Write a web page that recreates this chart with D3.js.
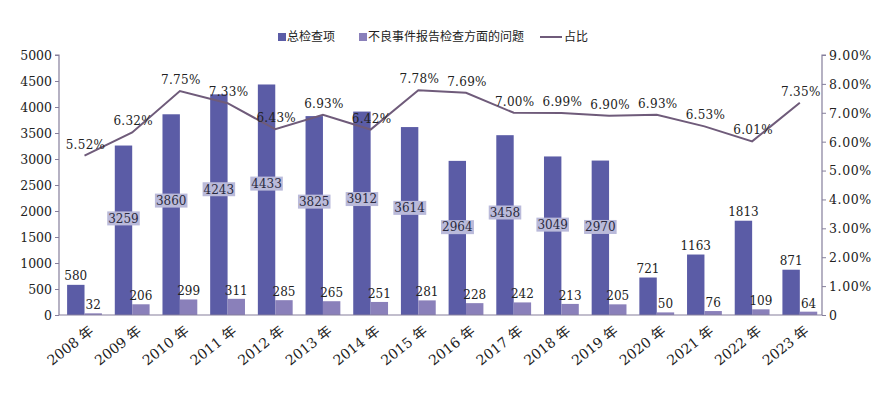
<!DOCTYPE html>
<html>
<head>
<meta charset="utf-8">
<script src="https://cdn.jsdelivr.net/npm/d3@7"></script>
<style>
  html, body { margin: 0; padding: 0; background: #fff; }
  svg { display: block; }
</style>
</head>
<body>
<svg id="chart" width="890" height="401"></svg>
<script>
const categories = ["2008 年","2009 年","2010 年","2011 年","2012 年","2013 年","2014 年","2015 年","2016 年","2017 年","2018 年","2019 年","2020 年","2021 年","2022 年","2023 年"];
const totalChecks = [580, 3259, 3860, 4243, 4433, 3825, 3912, 3614, 2964, 3458, 3049, 2970, 721, 1163, 1813, 871];
const adverseIssues = [32, 206, 299, 311, 285, 265, 251, 281, 228, 242, 213, 205, 50, 76, 109, 64];
const ratio = [5.52, 6.32, 7.75, 7.33, 6.43, 6.93, 6.42, 7.78, 7.69, 7.00, 6.99, 6.90, 6.93, 6.53, 6.01, 7.35];
const leftTicks = [0, 500, 1000, 1500, 2000, 2500, 3000, 3500, 4000, 4500, 5000];
const rightTicks = [0, 1, 2, 3, 4, 5, 6, 7, 8, 9];
const seriesNames = ["总检查项", "不良事件报告检查方面的问题", "占比"];

(function () {
const colMain = "#5b5ca6", colSub = "#8a80ba", colLine = "#6f5b7a", colAxis = "#857f9c", colBox = "#babada";
const serif = "'DejaVu Serif', 'Noto Sans CJK SC', serif";

const svg = d3.select("#chart");
const pLeft = 59, pRight = 822, pTop = 55, pBottom = 315;

const x0 = d3.scaleBand().domain(categories).range([pLeft, pRight]).padding(0);
const bw = x0.bandwidth();
const x1 = d3.scaleBand().domain([0, 1]).range([bw * 0.17, bw * 0.90]).padding(0);
const yL = d3.scaleLinear().domain([0, 5000]).range([pBottom, pTop]);
const yR = d3.scaleLinear().domain([0, 9]).range([pBottom, pTop]);
const cxOf = c => x0(c) + x1(1);

// bars
const g = svg.append("g");
categories.forEach((c, i) => {
  g.append("rect").attr("x", x0(c) + x1(0)).attr("y", yL(totalChecks[i]))
    .attr("width", x1.bandwidth()).attr("height", yL(0) - yL(totalChecks[i])).attr("fill", colMain);
  g.append("rect").attr("x", x0(c) + x1(1)).attr("y", yL(adverseIssues[i]))
    .attr("width", x1.bandwidth()).attr("height", yL(0) - yL(adverseIssues[i])).attr("fill", colSub);
});

// axes
const axL = svg.append("g").attr("transform", `translate(${pLeft},0)`)
  .call(d3.axisLeft(yL).tickValues(leftTicks).tickSize(4).tickPadding(3).tickFormat(d3.format("d")));
const axR = svg.append("g").attr("transform", `translate(${pRight},0)`)
  .call(d3.axisRight(yR).tickValues(rightTicks).tickSize(4).tickPadding(3)
    .tickFormat(d => d === 0 ? "0" : d.toFixed(2) + "%"));
[axL, axR].forEach(a => {
  a.select(".domain").attr("stroke", colAxis).attr("stroke-width", 1.2).attr("d",
    a === axL ? `M-4,${pTop}H0V${pBottom}` : `M4,${pTop}H0V${pBottom}`);
  a.selectAll(".tick line").attr("stroke", colAxis);
  a.selectAll(".tick text").attr("font-family", serif).attr("font-size", 12.5).attr("fill", "#222")
    .attr("dy", "0.35em");
});
axR.selectAll(".tick text").attr("letter-spacing", 0.6);
svg.append("line").attr("x1", pLeft).attr("x2", pRight).attr("y1", pBottom).attr("y2", pBottom)
  .attr("stroke", colAxis).attr("stroke-width", 1.2);

// x labels
categories.forEach(c => {
  const cx = cxOf(c) + 4;
  svg.append("text").attr("transform", `translate(${cx},${pBottom + 10}) rotate(-38)`)
    .attr("text-anchor", "end").attr("dy", "0.7em")
    .attr("font-family", serif).attr("font-size", 14).attr("fill", "#222").text(c);
});

// line
const line = d3.line().x((d, i) => cxOf(categories[i])).y(d => yR(d));
svg.append("path").datum(ratio).attr("d", line).attr("fill", "none")
  .attr("stroke", colLine).attr("stroke-width", 2);

// bar labels
categories.forEach((c, i) => {
  const v = totalChecks[i];
  const cx = x0(c) + x1(0) + x1.bandwidth() / 2;
  if (v > 2500) {
    const ly = yL(v * 0.57);
    const t = svg.append("text").attr("x", cx).attr("y", ly).attr("dy", "0.36em")
      .attr("text-anchor", "middle").attr("font-family", serif).attr("font-size", 12).attr("fill", "#2a2a40").text(v);
    const bb = t.node().getBBox();
    svg.insert("rect", () => t.node()).attr("x", bb.x - 1).attr("y", ly - 7)
      .attr("width", bb.width + 2).attr("height", 14).attr("fill", colBox);
  } else {
    svg.append("text").attr("x", cx).attr("y", yL(v) - 5).attr("text-anchor", "middle")
      .attr("font-family", serif).attr("font-size", 12).attr("fill", "#222").text(v);
  }
  const v2 = adverseIssues[i];
  const cx2 = x0(c) + x1(1) + x1.bandwidth() / 2;
  svg.append("text").attr("x", cx2).attr("y", yL(v2) - 4).attr("text-anchor", "middle")
    .attr("font-family", serif).attr("font-size", 12).attr("fill", "#222").text(v2);
});

// ratio labels
ratio.forEach((r, i) => {
  svg.append("text").attr("x", cxOf(categories[i]) + 1).attr("y", yR(r) - 7)
    .attr("text-anchor", "middle").attr("font-family", serif).attr("font-size", 12)
    .attr("letter-spacing", 0.3).attr("fill", "#222").text(r.toFixed(2) + "%");
});

// legend
const lg = svg.append("g").attr("font-family", "'Noto Sans CJK SC', sans-serif").attr("font-size", 12).attr("fill", "#222");
lg.append("rect").attr("x", 278).attr("y", 33).attr("width", 8).attr("height", 8).attr("fill", colMain);
lg.append("text").attr("x", 287).attr("y", 37).attr("dy", "0.35em").text(seriesNames[0]);
lg.append("rect").attr("x", 359).attr("y", 33).attr("width", 8).attr("height", 8).attr("fill", colSub);
lg.append("text").attr("x", 368).attr("y", 37).attr("dy", "0.35em").text(seriesNames[1]);
lg.append("line").attr("x1", 540).attr("x2", 562).attr("y1", 37).attr("y2", 37).attr("stroke", colLine).attr("stroke-width", 2);
lg.append("text").attr("x", 564).attr("y", 37).attr("dy", "0.35em").text(seriesNames[2]);
})();
</script>
</body>
</html>
